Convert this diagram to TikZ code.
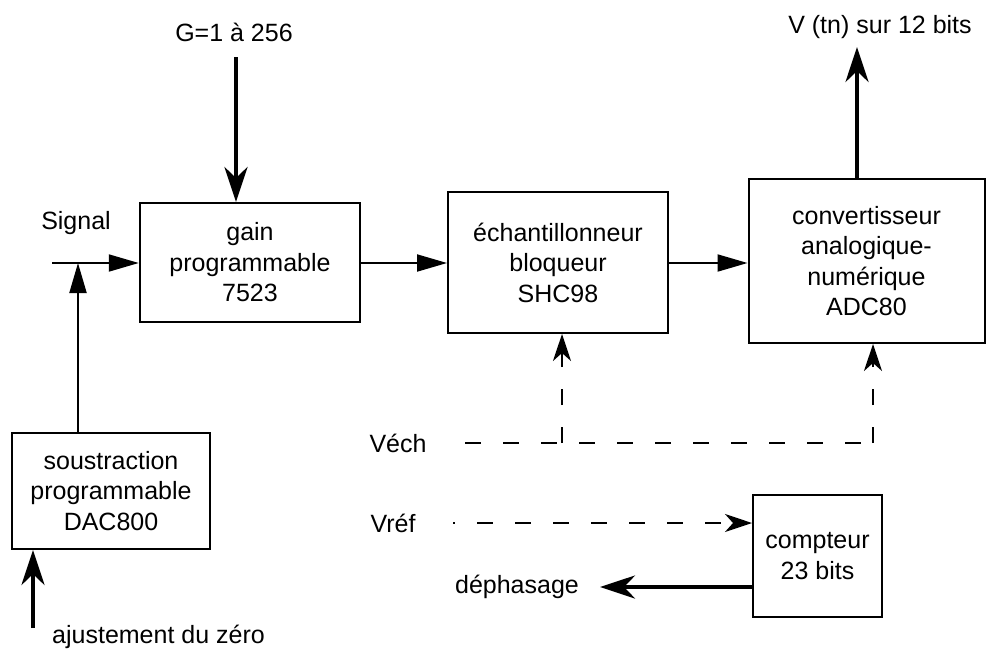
\documentclass[tikz,border=0pt]{standalone}
\usepackage{fontspec}
\setmainfont{Liberation Sans}
\usetikzlibrary{arrows.meta}
\begin{document}
\begin{tikzpicture}[x=1pt,y=-1pt,
  every node/.style={font=\fontsize{25}{30.5}\selectfont, inner sep=0pt},
  box/.style={draw, line width=2pt, align=center},
  lbl/.style={},
  thinarrow/.style={line width=2pt, -{Triangle[length=30pt,width=17pt]}},
  thickarrow/.style={line width=4pt, -{Stealth[length=35pt,width=23pt,inset=11pt]}},
  dashline/.style={line width=2pt, dash pattern=on 16pt off 22pt},
  dasharrow/.style={dashline, -{Stealth[length=27pt,width=18pt,inset=8pt]}}
]
\useasboundingbox (0,0) rectangle (987,654);

% boxes
\node[box, minimum width=220.5pt, minimum height=119pt] (gain) at (250,262.5) {gain\\programmable\\7523};
\node[box, minimum width=220pt, minimum height=141pt] (ech) at (558,262.5) {échantillonneur\\bloqueur\\SHC98};
\node[box, minimum width=236pt, minimum height=164pt] (conv) at (866.5,261) {convertisseur\\analogique-\\numérique\\ADC80};
\node[box, minimum width=198pt, minimum height=116pt] (dac) at (111,491) {soustraction\\programmable\\DAC800};
\node[box, minimum width=129pt, minimum height=122pt] (cpt) at (817.5,556) {compteur\\23 bits};

% labels
\node[lbl] (g) at (234,32) {G=1 à 256};
\node[lbl] (v) at (880,27) {V (tn) sur 12 bits};
\node[lbl] (sig) at (76,223) {Signal};
\node[lbl] (vech) at (398,443) {Véch};
\node[lbl] (vref) at (393,523) {Vréf};
\node[lbl] (deph) at (517,587) {déphasage};
\node[lbl, anchor=west] (aj) at (52,637) {ajustement du zéro};

% coordinates
\coordinate (gtop) at (236,57);
\coordinate (vtop) at (857,47);
\coordinate (sigstart) at (52,263);
\coordinate (j) at (78,263);
\coordinate (ajbot) at (33,628);
\coordinate (vl) at (465,443);
\coordinate (vm) at (562,443);
\coordinate (vr) at (873,443);
\coordinate (vrefstart) at (453,523);
\coordinate (dephtip) at (600,587);

% solid connectors
\draw[thickarrow] (gtop) -- (gain.north -| gtop);
\draw[thickarrow] (conv.north -| vtop) -- (vtop);
\draw[thinarrow] (sigstart) -- (gain.west |- sigstart);
\draw[thinarrow] (dac.north -| j) -- (j);
\draw[thinarrow] (gain.east |- sigstart) -- (ech.west |- sigstart);
\draw[thinarrow] (ech.east |- sigstart) -- (conv.west |- sigstart);
\draw[thickarrow] (ajbot) -- (dac.south -| ajbot);
\draw[thickarrow] (cpt.west |- dephtip) -- (dephtip);

% dashed connectors
\draw[dashline] (vl) -- (vr);
\draw[dasharrow] (vm) -- (ech.south -| vm);
\draw[dasharrow] (vr) -- (conv.south -| vr);
\draw[dasharrow, dash phase=14pt] (vrefstart) -- (cpt.west |- vrefstart);
\end{tikzpicture}
\end{document}
